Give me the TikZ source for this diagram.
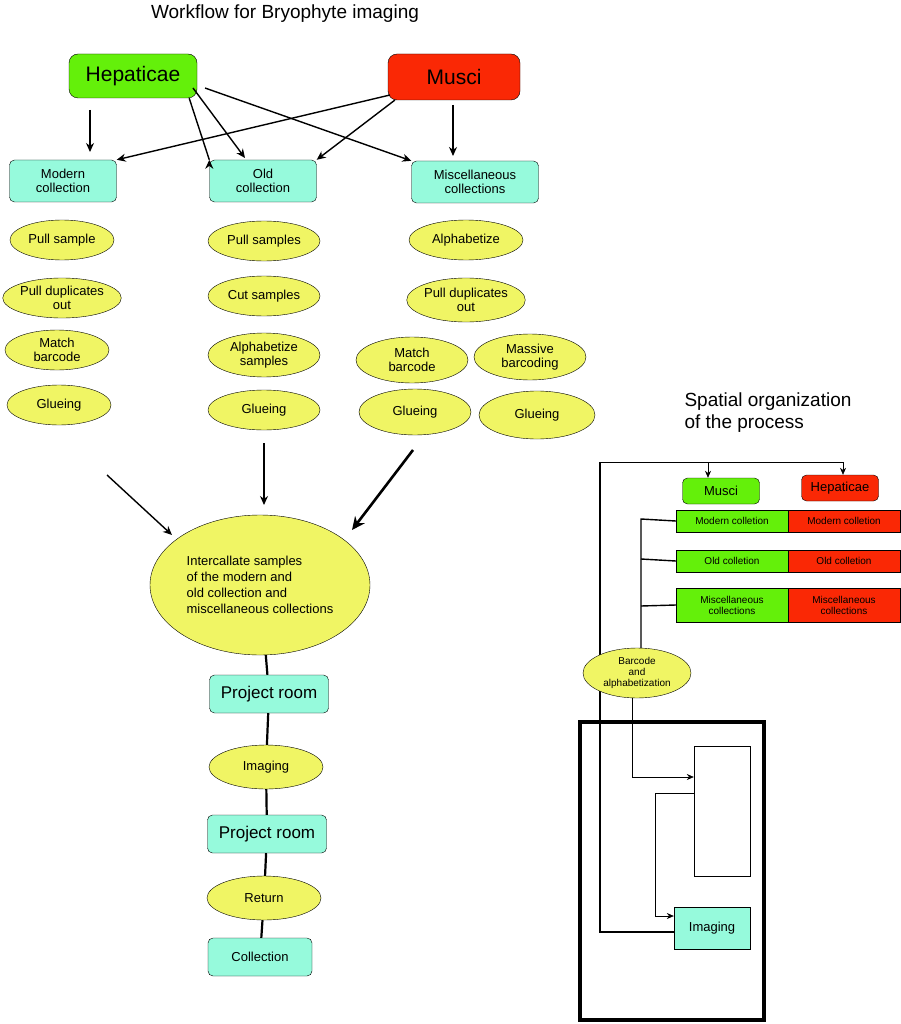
\documentclass[tikz,border=0pt]{standalone}
\usepackage{fontspec}
\setmainfont{Liberation Sans}
\usetikzlibrary{shapes.geometric,arrows.meta}
\definecolor{gr}{RGB}{100,240,10}
\definecolor{rd}{RGB}{250,40,5}
\definecolor{cy}{RGB}{150,250,220}
\definecolor{yl}{RGB}{240,245,100}
\begin{document}
\begin{tikzpicture}[x=1pt,y=-1pt,
 box/.style={draw,rounded corners=5pt,minimum width=#1,inner sep=1pt,align=center,font=\fontsize{13}{14}\selectfont},
 ell/.style={draw,ellipse,fill=yl,minimum width=104,minimum height=40,inner sep=0pt,align=center,font=\fontsize{13}{14}\selectfont},
 arr/.style={-{Stealth[length=9pt,width=8pt]},line width=1.4pt},
 sq/.style={draw,minimum height=22,inner sep=1pt,align=center,font=\fontsize{10}{11}\selectfont},
 thin/.style={-{Stealth[length=7pt,width=6pt]},line width=0.6pt}]
\useasboundingbox (0,0) rectangle (901,1024);
\node[font=\fontsize{19}{21}\selectfont] (t) at (285,14) {Workflow for Bryophyte imaging};
\node[box=128,fill=gr,minimum height=44,font=\fontsize{21}{22}\selectfont,rounded corners=9pt] (hep) at (133,76) {Hepaticae};
\node[box=132,fill=rd,minimum height=46,font=\fontsize{21}{22}\selectfont,rounded corners=9pt] (mus) at (454,77) {Musci};
\node[box=107,fill=cy,minimum height=42] (mod) at (63,181) {Modern\\collection};
\node[box=107,fill=cy,minimum height=42] (old) at (263,181) {Old\\collection};
\node[box=127,fill=cy,minimum height=42] (mis) at (475,182) {Miscellaneous\\collections};
\coordinate (h1) at (90,110); \coordinate (h1e) at (90,152);
\coordinate (m1) at (453,105); \coordinate (m1e) at (453,156);
\draw[arr] (h1) -- (h1e);
\draw[arr] (hep.south east) ++(-8,0) -- (old.north west) ++(0,0);
\draw[arr] (193,88) -- (245,158);
\draw[arr] (205,88) -- (mis.north west);
\draw[arr] (390,95) -- (mod.north east);
\draw[arr] (395,100) -- (old.north east);
\draw[arr] (m1) -- (m1e);
\node[ell] (a1) at (62,240) {Pull sample};
\node[ell] (a2) at (62,298) {Pull duplicates\\out};
\node[ell] (a3) at (57,350) {Match\\barcode};
\node[ell] (a4) at (59,405) {Glueing};
\node[ell,minimum width=112] (b1) at (264,241) {Pull samples};
\node[ell,minimum width=112] (b2) at (264,296) {Cut samples};
\node[ell,minimum width=112,minimum height=44] (b3) at (264,355) {Alphabetize\\samples};
\node[ell,minimum width=112] (b4) at (264,410) {Glueing};
\node[ell,minimum width=114] (c1) at (466,240) {Alphabetize};
\node[ell,minimum width=118,minimum height=44] (c2) at (466,300) {Pull duplicates\\out};
\node[ell,minimum width=112,minimum height=46] (c3) at (412,360) {Match\\barcode};
\node[ell,minimum width=112,minimum height=46] (c4) at (530,357) {Massive\\barcoding};
\node[ell,minimum width=112,minimum height=46] (c5) at (415,412) {Glueing};
\node[ell,minimum width=116,minimum height=48] (c6) at (537,415) {Glueing};
\node[draw,ellipse,fill=yl,minimum width=220,minimum height=140,inner sep=0pt,align=left,font=\fontsize{13}{16}\selectfont] (big) at (260,585) {Intercallate samples\\of the modern and\\old collection and\\miscellaneous collections};
\coordinate (s1) at (107,475); \coordinate (s2) at (264,443); \coordinate (s3) at (413,450);
\draw[arr] (s1) -- (172,535);
\draw[arr] (s2) -- (264,505);
\draw[-{Stealth[length=13pt,width=12pt]},line width=2.6pt] (s3) -- (352,530);
\node[box=119,fill=cy,minimum height=38,font=\fontsize{17}{18}\selectfont] (p1) at (269,694) {Project room};
\node[ell,minimum width=114,minimum height=44] (im) at (266,767) {Imaging};
\node[box=119,fill=cy,minimum height=38,font=\fontsize{17}{18}\selectfont] (p2) at (267,834) {Project room};
\node[ell,minimum width=114,minimum height=44] (re) at (264,898) {Return};
\node[box=104,fill=cy,minimum height=38] (co) at (260,957) {Collection};
\draw[line width=2.2pt] (big) -- (p1) -- (im) -- (p2) -- (re) -- (co);
% right
\node[font=\fontsize{19}{22}\selectfont,align=left] (sp) at (768,413) {Spatial organization\\ of the process};
\node[box=77,fill=gr,minimum height=26,font=\fontsize{13}{14}\selectfont,rounded corners=5pt] (rm) at (721,491) {Musci};
\node[box=77,fill=rd,minimum height=26,font=\fontsize{13}{14}\selectfont,rounded corners=5pt] (rh) at (840,488) {Hepaticae};
\node[sq,fill=gr,minimum width=112] (g1) at (732,521) {Modern colletion};
\node[sq,fill=rd,minimum width=112] (r1) at (844,521) {Modern colletion};
\node[sq,fill=gr,minimum width=112] (g2) at (732,561) {Old colletion};
\node[sq,fill=rd,minimum width=112] (r2) at (844,561) {Old colletion};
\node[sq,fill=gr,minimum width=112,minimum height=34] (g3) at (732,605) {Miscellaneous\\collections};
\node[sq,fill=rd,minimum width=112,minimum height=34] (r3) at (844,605) {Miscellaneous\\collections};
\draw[line width=4pt] (580,722) rectangle (764,1020);
\node[draw,minimum width=56,minimum height=130] (tall) at (722,811) {};
\node[draw,fill=cy,minimum width=76,minimum height=42,font=\fontsize{13}{14}\selectfont] (rim) at (712,928) {Imaging};
\coordinate (tl) at (600,462); \coordinate (tr) at (843,462);
\draw[line width=2pt] (rim.west|-0,932) -- (600,932) -- (tl);
\draw[line width=0.8pt] (tl) -- (tr);
\draw[thin] (708,462) -- (rm.north-|708,0);
\draw[thin] (tr) -- (rh.north-|tr);
\node[draw,ellipse,fill=yl,minimum width=108,minimum height=50,inner sep=0pt,align=center,font=\fontsize{10}{11}\selectfont] (bc) at (637,673) {Barcode\\and\\alphabetization};
\draw[line width=1.4pt] (bc.north-|641,0) -- (641,519) -- (g1.west);
\draw[line width=1.4pt] (641,559) -- (g2.west);
\draw[line width=1.4pt] (641,606) -- (g3.west);
\draw[thin] (bc.south-|632,0) -- (632,777) -- (tall.west|-0,777);
\draw[thin] (tall.west|-0,793) -- (655,793) -- (655,916) -- (rim.west|-0,916);
\end{tikzpicture}
\end{document}
